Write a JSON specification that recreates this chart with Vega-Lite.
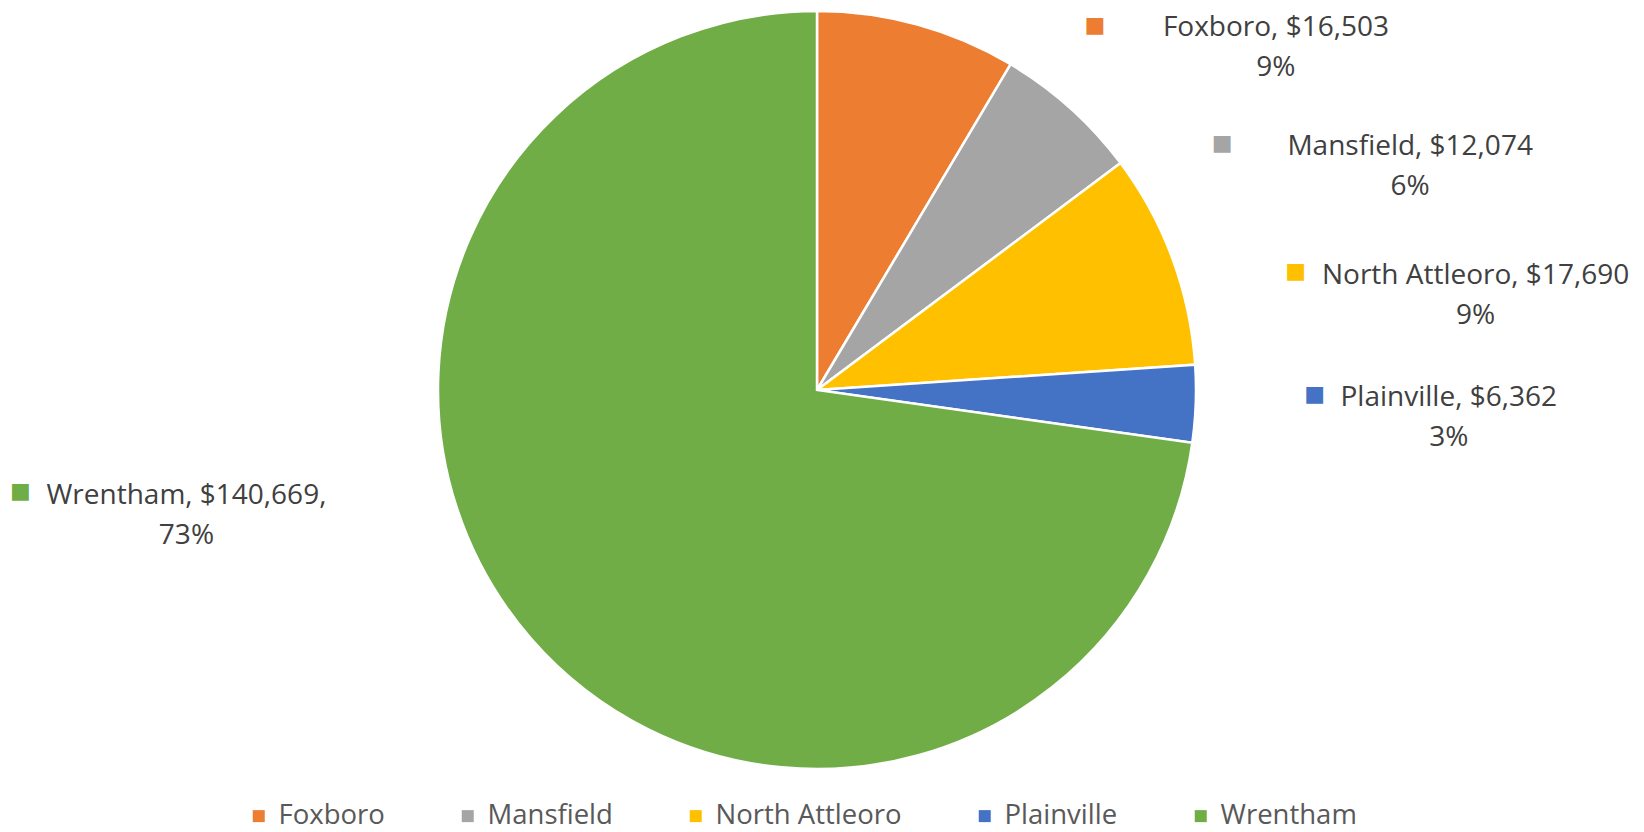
{
  "$schema": "https://vega.github.io/schema/vega-lite/v6.json",
  "width": 1634,
  "height": 780,
  "autosize": {"type": "none"},
  "padding": {"left": 0, "top": 0, "right": 10, "bottom": 52},
  "background": "white",
  "config": {"view": {"stroke": null}, "font": "Open Sans"},
  "data": {
    "values": [
      {"name": "Foxboro", "value": 16503, "label": "Foxboro, $16,503\n9%"},
      {"name": "Mansfield", "value": 12074, "label": "Mansfield, $12,074\n6%"},
      {"name": "North Attleoro", "value": 17690, "label": "North Attleoro, $17,690\n9%"},
      {"name": "Plainville", "value": 6362, "label": "Plainville, $6,362\n3%"},
      {"name": "Wrentham", "value": 140669, "label": "Wrentham, $140,669,\n73%"}
    ]
  },
  "layer": [
    {
      "mark": {"type": "arc", "outerRadius": 379, "stroke": "white", "strokeWidth": 2.5},
      "encoding": {
        "theta": {"field": "value", "type": "quantitative", "stack": true},
        "color": {
          "field": "name",
          "type": "nominal",
          "scale": {
            "domain": ["Foxboro", "Mansfield", "North Attleoro", "Plainville", "Wrentham"],
            "range": ["#ED7D31", "#A5A5A5", "#FFC000", "#4472C4", "#70AD47"]
          },
          "legend": {
            "orient": "none",
            "direction": "horizontal",
            "legendX": 245,
            "legendY": 802,
            "title": null,
            "symbolType": "square",
            "symbolSize": 144,
            "symbolStrokeWidth": 0,
            "symbolOpacity": 1,
            "labelFontSize": 27.5,
            "labelColor": "#595959",
            "labelFont": "Open Sans",
            "labelOffset": 6,
            "columnPadding": 69,
            "labelLimit": 400
          }
        }
      }
    },
    {
      "mark": {
        "type": "text",
        "radius": 377,
        "fontSize": 28,
        "lineHeight": 40,
        "lineBreak": "\n",
        "align": "center",
        "baseline": "middle",
        "fill": "#404040",
        "font": "Open Sans",
        "dx": {"expr": "datum.name === 'Foxboro' ? 359 : datum.name === 'Mansfield' ? 341 : datum.name === 'North Attleoro' ? 305 : datum.name === 'Plainville' ? 255 : -346"},
        "dy": {"expr": "datum.name === 'Foxboro' ? 2 : datum.name === 'Mansfield' ? 37 : datum.name === 'North Attleoro' ? 17 : datum.name === 'Plainville' ? -6 : -141"}
      },
      "encoding": {
        "theta": {"field": "value", "type": "quantitative", "stack": true},
        "detail": {"field": "name", "type": "nominal"},
        "text": {"field": "label", "type": "nominal"}
      }
    },
    {
      "mark": {
        "type": "text",
        "text": "■",
        "radius": 377,
        "font": "DejaVu Sans",
        "fontSize": 22,
        "align": "center",
        "baseline": "middle",
        "dx": {"expr": "datum.name === 'Foxboro' ? 178 : datum.name === 'Mansfield' ? 153 : datum.name === 'North Attleoro' ? 125 : datum.name === 'Plainville' ? 121 : -512"},
        "dy": {"expr": "datum.name === 'Foxboro' ? -1 : datum.name === 'Mansfield' ? 33 : datum.name === 'North Attleoro' ? 12 : datum.name === 'Plainville' ? -10 : -146"}
      },
      "encoding": {
        "theta": {"field": "value", "type": "quantitative", "stack": true},
        "detail": {"field": "name", "type": "nominal"},
        "fill": {
          "field": "name",
          "type": "nominal",
          "scale": {
            "domain": ["Foxboro", "Mansfield", "North Attleoro", "Plainville", "Wrentham"],
            "range": ["#ED7D31", "#A5A5A5", "#FFC000", "#4472C4", "#70AD47"]
          },
          "legend": null
        }
      }
    }
  ]
}
